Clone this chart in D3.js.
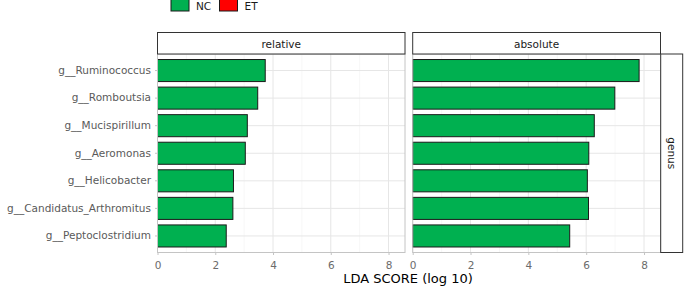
<!DOCTYPE html>
<html>
<head>
<meta charset="utf-8">
<script src="https://cdn.jsdelivr.net/npm/d3@7"></script>
<style>
  body { margin: 0; background: #fff; }
  svg { display: block; font-family: "DejaVu Sans", sans-serif; }
</style>
</head>
<body>
<div id="chart"></div>
<script>
// data
const genera = ["g__Ruminococcus", "g__Romboutsia", "g__Mucispirillum", "g__Aeromonas",
                "g__Helicobacter", "g__Candidatus_Arthromitus", "g__Peptoclostridium"];
const relativeScores = [3.73, 3.47, 3.11, 3.04, 2.63, 2.61, 2.38];
const absoluteScores = [7.83, 6.99, 6.28, 6.09, 6.04, 6.08, 5.43];
const facets = ["relative", "absolute"];
const groups = ["NC", "ET"];
const groupColors = ["#00b050", "#ff0000"];
const xTicks = [0, 2, 4, 6, 8];
const xMinor = [1, 3, 5, 7];

const width = 685, height = 287;
const panelTop = 54, panelBottom = 252.5;
const panels = [
  { name: facets[0], x0: 157.5, x1: 405, values: relativeScores },
  { name: facets[1], x0: 412.7, x1: 660.5, values: absoluteScores }
];

const svg = d3.select("#chart").append("svg")
  .attr("width", width)
  .attr("height", height);

const y = d3.scaleBand()
  .domain(genera)
  .range([panelTop, panelBottom])
  .paddingInner(0.2)
  .paddingOuter(0.2);

panels.forEach(function(p, pi) {
  const x = d3.scaleLinear().domain([0, 8.57]).range([p.x0, p.x1]);
  const g = svg.append("g");

  // minor + major grid
  g.selectAll(".minor").data(xMinor).enter().append("line")
    .attr("x1", d => x(d)).attr("x2", d => x(d))
    .attr("y1", panelTop).attr("y2", panelBottom)
    .attr("stroke", "#f2f2f2").attr("stroke-width", 0.6);
  g.selectAll(".major").data(xTicks).enter().append("line")
    .attr("x1", d => x(d)).attr("x2", d => x(d))
    .attr("y1", panelTop).attr("y2", panelBottom)
    .attr("stroke", "#e6e6e6").attr("stroke-width", 1);
  g.selectAll(".hgrid").data(genera).enter().append("line")
    .attr("x1", p.x0).attr("x2", p.x1)
    .attr("y1", d => y(d) + y.bandwidth() / 2)
    .attr("y2", d => y(d) + y.bandwidth() / 2)
    .attr("stroke", "#e6e6e6").attr("stroke-width", 1);

  // bars
  g.selectAll(".bar").data(p.values).enter().append("rect")
    .attr("x", x(0))
    .attr("y", (d, i) => y(genera[i]))
    .attr("width", d => x(d) - x(0))
    .attr("height", y.bandwidth())
    .attr("fill", groupColors[0])
    .attr("stroke", "#1a1a1a")
    .attr("stroke-width", 1);

  // panel border
  g.append("rect")
    .attr("x", p.x0).attr("y", panelTop)
    .attr("width", p.x1 - p.x0).attr("height", panelBottom - panelTop)
    .attr("fill", "none").attr("stroke", "#c4c4c4").attr("stroke-width", 1);

  // x axis
  const axis = g.append("g")
    .attr("transform", `translate(0,${panelBottom})`)
    .call(d3.axisBottom(x).tickValues(xTicks).tickSize(2.5).tickPadding(6.5));
  axis.select(".domain").remove();
  axis.selectAll("line").attr("stroke", "#c4c4c4");
  axis.selectAll("text").attr("fill", "#6b6b6b").style("font-size", "10.5px")
    .style("font-family", "DejaVu Sans, sans-serif");

  // strip
  g.append("rect")
    .attr("x", p.x0).attr("y", 32.5)
    .attr("width", p.x1 - p.x0).attr("height", panelTop - 32.5)
    .attr("fill", "#fff").attr("stroke", "#333").attr("stroke-width", 1);
  g.append("text")
    .attr("x", (p.x0 + p.x1) / 2).attr("y", 44)
    .attr("text-anchor", "middle").attr("dominant-baseline", "central")
    .attr("fill", "#1a1a1a").style("font-size", "10.5px")
    .text(p.name);

  // y axis labels only on first panel
  if (pi === 0) {
    const ya = g.append("g")
      .attr("transform", `translate(${p.x0},0)`)
      .call(d3.axisLeft(y).tickSize(2.5).tickPadding(4));
    ya.select(".domain").remove();
    ya.selectAll("line").attr("stroke", "#c4c4c4");
    ya.selectAll("text").attr("fill", "#5a5a5a").style("font-size", "10.5px")
      .style("font-family", "DejaVu Sans, sans-serif");
  }
});

// right strip "genus"
svg.append("rect")
  .attr("x", 660.7).attr("y", panelTop)
  .attr("width", 22).attr("height", panelBottom - panelTop)
  .attr("fill", "#fff").attr("stroke", "#333").attr("stroke-width", 1);
svg.append("text")
  .attr("transform", `translate(671.5,${(panelTop + panelBottom) / 2}) rotate(90)`)
  .attr("text-anchor", "middle").attr("dominant-baseline", "central")
  .attr("fill", "#1a1a1a").style("font-size", "10.5px")
  .text("genus");

// axis title
svg.append("text")
  .attr("x", 408).attr("y", 283)
  .attr("text-anchor", "middle")
  .attr("fill", "#000").style("font-size", "13px")
  .text("LDA SCORE (log 10)");

// legend
const legend = svg.selectAll(".legend").data(groups).enter().append("g")
  .attr("transform", (d, i) => `translate(${171 + i * 48.5},0)`);
legend.append("rect")
  .attr("x", 0).attr("y", -6)
  .attr("width", 18).attr("height", 17)
  .attr("fill", (d, i) => groupColors[i])
  .attr("stroke", "#1a1a1a").attr("stroke-width", 1);
legend.append("text")
  .attr("x", 25).attr("y", 6)
  .attr("dominant-baseline", "central")
  .attr("fill", "#1a1a1a").style("font-size", "10.5px")
  .text(d => d);
</script>
</body>
</html>
